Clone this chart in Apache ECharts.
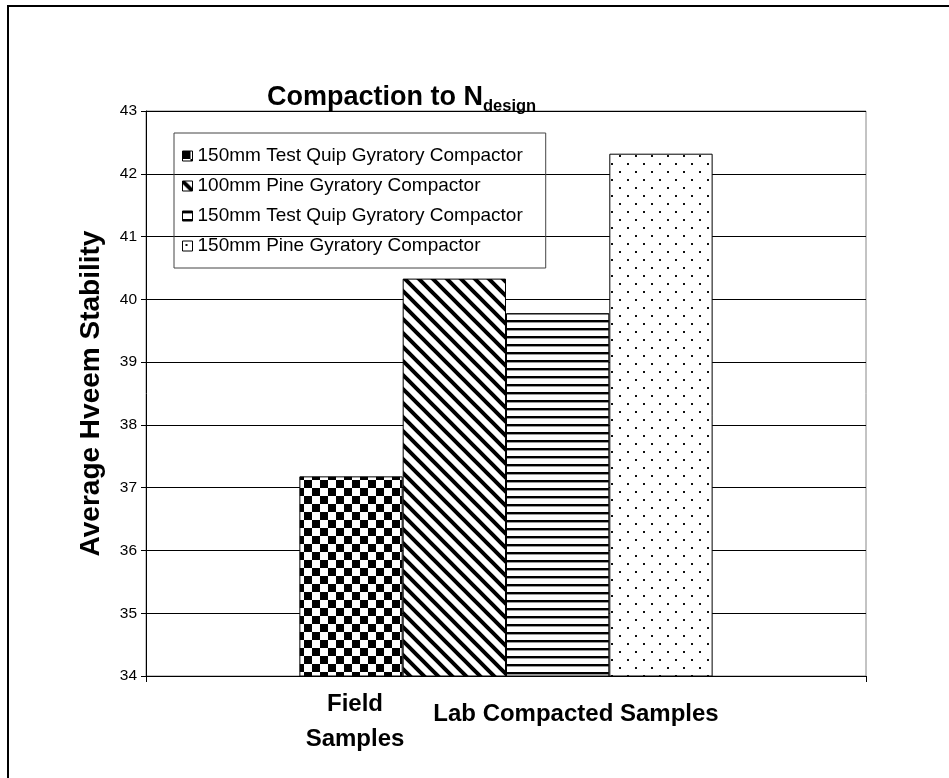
<!DOCTYPE html>
<html>
<head>
<meta charset="utf-8">
<script src="https://cdn.jsdelivr.net/npm/echarts@6/dist/echarts.min.js"></script>
<style>html,body{margin:0;padding:0;background:#fff}#c{width:949px;height:778px}</style>
</head>
<body>
<div id="c"></div>
<script>
// ---- data ----
const categories = [''];
const seriesNames = [
  '150mm Test Quip Gyratory Compactor',
  '100mm Pine Gyratory Compactor',
  '150mm Test Quip Gyratory Compactor',
  '150mm Pine Gyratory Compactor'
];
const seriesValues = [37.18, 40.33, 39.78, 42.32];
const yTickLabels = [34, 35, 36, 37, 38, 39, 40, 41, 42, 43];
const groupLabels = ['Field\nSamples', 'Lab Compacted Samples'];
const titleMain = 'Compaction to N';
const titleSub = 'design';
const yAxisTitle = 'Average Hveem Stability';

// ---- patterns ----
function tile(w, h, draw) {
  const c = document.createElement('canvas');
  c.width = w; c.height = h;
  const g = c.getContext('2d');
  g.fillStyle = '#fff'; g.fillRect(0, 0, w, h);
  draw(g);
  return { image: c, repeat: 'repeat' };
}
const patChecker = tile(16, 16, g => {
  g.fillStyle = '#000';
  g.fillRect(0, 0, 8, 8); g.fillRect(8, 8, 8, 8);
});
const patDiag = tile(14, 14, g => {
  g.strokeStyle = '#000'; g.lineWidth = 4;
  g.beginPath();
  g.moveTo(-3, -3); g.lineTo(17, 17);
  g.moveTo(-17, -3); g.lineTo(3, 17);
  g.moveTo(11, -3); g.lineTo(31, 17);
  g.stroke();
});
const patHoriz = tile(8, 8, g => {
  g.fillStyle = '#000'; g.fillRect(0, 0, 8, 2);
  g.fillStyle = '#999'; g.fillRect(0, 2, 8, 1);
});
const patDots = tile(16, 16, g => {
  g.fillStyle = '#111';
  g.fillRect(3, 3, 2, 2); g.fillRect(11, 11, 2, 2);
});
const patternsBar = [patChecker, patDiag, patHoriz, patDots];

const chart = echarts.init(document.getElementById('c'), null, { renderer: 'canvas' });
const FONT = 'Liberation Sans, Arial, sans-serif';

const series = seriesNames.map((n, i) => ({
  type: 'bar',
  name: n + '\u200b'.repeat(i),
  data: [seriesValues[i]],
  barGap: '0%',
  barCategoryGap: '42.6%',
  itemStyle: { color: patternsBar[i], borderColor: '#000', borderWidth: 1 },
  emphasis: { disabled: true },
  animation: false
}));

chart.setOption({
  backgroundColor: '#fff',
  animation: false,
  title: {
    text: '{a|' + titleMain + '}{b|' + titleSub + '}',
    left: 262, top: 79,
    textStyle: {
      rich: {
        a: { fontFamily: FONT, fontWeight: 'bold', fontSize: 27, color: '#000', padding: [0, 0, 4, 0], verticalAlign: 'bottom' },
        b: { fontFamily: FONT, fontWeight: 'bold', fontSize: 16.5, color: '#000', verticalAlign: 'bottom' }
      }
    }
  },
  legend: {
    orient: 'vertical',
    left: 174, top: 133,
    padding: [13, 23, 12, 8],
    itemGap: 10,
    itemWidth: 10, itemHeight: 10,
    itemStyle: { borderColor: '#000', borderWidth: 1 },
    borderColor: '#444', borderWidth: 1,
    backgroundColor: 'transparent',
    selectedMode: false,
    textStyle: { fontFamily: FONT, fontSize: 19, color: '#000', lineHeight: 20 },
    data: series.map(s => ({ name: s.name, icon: 'rect' }))
  },
  grid: {
    left: 146, right: 83, top: 111, bottom: 102,
    show: true, borderColor: '#888', borderWidth: 1, backgroundColor: 'transparent'
  },
  xAxis: {
    type: 'category',
    data: categories,
    axisLine: { lineStyle: { color: '#000', width: 1 } },
    axisTick: { show: true, length: 6, lineStyle: { color: '#000' } },
    axisLabel: { show: false },
    splitLine: { show: false }
  },
  yAxis: {
    type: 'value',
    min: yTickLabels[0], max: yTickLabels[yTickLabels.length - 1], interval: 1,
    name: yAxisTitle,
    nameLocation: 'middle', nameRotate: 90, nameGap: 41,
    nameTextStyle: { fontFamily: FONT, fontWeight: 'bold', fontSize: 28, color: '#000' },
    axisLine: { show: true, lineStyle: { color: '#000', width: 1 } },
    axisTick: { show: true, length: 5, lineStyle: { color: '#000' } },
    axisLabel: { fontFamily: FONT, fontSize: 15.5, color: '#000', margin: 9 },
    splitLine: { show: true, lineStyle: { color: '#000', width: 1 } }
  },
  graphic: [
    { type: 'rect', shape: { x: 8, y: 6, width: 1000, height: 900 }, style: { fill: 'none', stroke: '#000', lineWidth: 2 }, silent: true },
    { type: 'text', x: 355, y: 722, style: { text: groupLabels[0], fontFamily: FONT, fontWeight: 'bold', fontSize: 24, fill: '#000', align: 'center', verticalAlign: 'middle', lineHeight: 35 } },
    { type: 'text', x: 576, y: 714, style: { text: groupLabels[1], fontFamily: FONT, fontWeight: 'bold', fontSize: 24, fill: '#000', align: 'center', verticalAlign: 'middle' } }
  ],
  series: series
});
</script>
</body>
</html>
